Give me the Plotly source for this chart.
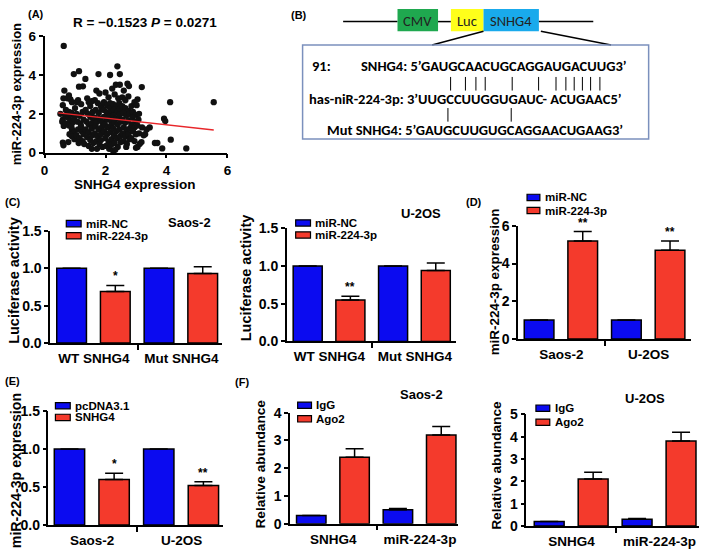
import plotly.graph_objects as go

W, H = 709, 557
FONT = "Liberation Sans, Arial"
BLUE = "#0b0bf0"
RED = "#f43a2c"

# ---------------- Panel A data (scatter) ----------------
snhg4_expr = [
    0.52, 0.6, 0.62, 0.65, 0.6, 0.58, 0.63, 0.6, 0.62, 0.78, 0.63, 0.7, 0.68, 0.7,
    0.75, 0.8, 0.85, 0.9, 0.8, 0.88, 0.95, 0.78, 0.85, 0.92, 0.8, 0.9, 0.95, 0.82, 0.9, 0.98, 0.96, 1.0, 0.97, 0.88,
    1.13, 1.13, 1.26, 1.05, 1.1, 1.2, 1.05, 1.15, 1.25, 1.08, 1.18, 1.28, 1.1, 1.22, 1.05, 1.15, 1.25, 1.12, 1.3, 1.2, 1.28,
    1.34, 1.4, 1.45, 1.5, 1.55, 1.35, 1.42, 1.5, 1.58, 1.38, 1.45, 1.55, 1.35, 1.45, 1.55, 1.4, 1.5, 1.58, 1.45, 1.55, 1.6, 1.6,
    1.77, 1.7, 1.8, 1.65, 1.75, 1.85, 1.68, 1.78, 1.88, 1.65, 1.72, 1.82, 1.9, 1.68, 1.78, 1.88, 1.65, 1.75, 1.85, 1.7, 1.8, 1.9, 1.72, 1.85,
    2.15, 2.0, 2.1, 1.95, 2.05, 2.15, 1.95, 2.05, 2.15, 2.2, 1.95, 2.05, 2.12, 2.2, 1.98, 2.08, 2.18, 1.95, 2.05, 2.15, 2.0, 2.1, 2.2, 2.02, 2.12, 2.18, 2.22,
    2.39, 2.47, 2.34, 2.47, 2.3, 2.42, 2.25, 2.35, 2.45, 2.28, 2.38, 2.48, 2.25, 2.35, 2.45, 2.3, 2.4, 2.5, 2.25, 2.35, 2.45, 2.28, 2.38, 2.48, 2.3, 2.4, 2.25, 2.32, 2.5, 2.45,
    2.72, 2.77, 2.6, 2.55, 2.65, 2.75, 2.55, 2.65, 2.75, 2.58, 2.68, 2.78, 2.55, 2.65, 2.75, 2.6, 2.7, 2.8, 2.55, 2.65, 2.75, 2.6, 2.7, 2.8, 2.68,
    2.85, 2.95, 3.05, 3.02, 2.9, 3.0, 3.1, 2.88, 2.98, 3.08, 2.85, 2.95, 3.05, 2.9, 3.0, 3.1, 2.85, 2.95, 3.05, 3.12, 3.19, 3.2, 3.25, 3.18, 3.0,
    3.35, 3.45, 3.3, 3.62, 3.7, 3.86, 3.92, 3.96, 4.12, 4.14, 4.65, 5.55,
]
mir224_expr = [
    2.0, 2.45, 2.8, 3.2, 1.7, 1.6, 1.38, 0.52, 0.38, 0.55, 5.5, 2.2, 1.9, 1.5,
    2.8, 2.95, 2.75, 2.6, 2.1, 2.05, 1.95, 1.8, 1.65, 1.55, 1.4, 1.2, 1.05, 0.95, 0.85, 0.7, 4.05, 2.3, 1.75, 1.35,
    4.2, 3.4, 3.42, 2.6, 2.7, 2.5, 2.0, 1.9, 2.1, 1.6, 1.5, 1.7, 1.2, 1.1, 0.9, 0.75, 0.6, 0.5, 0.45, 1.35, 0.95,
    3.8, 2.8, 2.6, 2.4, 2.65, 2.2, 2.0, 1.85, 2.1, 1.6, 1.45, 1.5, 1.2, 1.05, 1.25, 0.8, 0.65, 0.9, 0.35, 0.2, 0.5, 1.7,
    4.05, 3.2, 3.05, 2.7, 2.55, 2.4, 2.2, 2.05, 2.25, 1.8, 1.6, 1.75, 1.55, 1.35, 1.2, 1.3, 1.0, 0.85, 0.95, 0.6, 0.45, 0.3, 0.2, 0.65,
    4.0, 3.1, 2.85, 2.6, 2.45, 2.55, 2.2, 2.05, 2.3, 2.1, 1.85, 1.7, 1.85, 1.6, 1.45, 1.3, 1.4, 1.1, 0.95, 1.05, 0.75, 0.55, 0.7, 0.35, 0.2, 0.4, 3.3,
    4.45, 4.05, 3.5, 3.5, 3.0, 2.8, 2.5, 2.4, 2.55, 2.2, 2.1, 2.25, 1.9, 1.75, 1.85, 1.55, 1.45, 1.6, 1.25, 1.1, 1.2, 0.9, 0.75, 0.85, 0.5, 0.3, 0.1, 0.15, 0.55, 1.95,
    3.55, 3.43, 3.2, 2.85, 2.7, 2.9, 2.4, 2.3, 2.15, 2.05, 1.9, 2.0, 1.7, 1.55, 1.65, 1.3, 1.15, 1.25, 1.0, 0.85, 0.95, 0.6, 0.45, 0.7, 0.3,
    2.4, 2.6, 2.75, 2.45, 2.1, 1.95, 2.0, 1.8, 1.6, 1.7, 1.45, 1.3, 1.4, 1.1, 0.95, 1.0, 0.75, 0.6, 0.3, 0.45, 3.38, 1.3, 0.9, 0.55, 0.25,
    1.2, 1.3, 0.95, 0.5, 0.5, 0.22, 1.75, 1.63, 2.6, 0.67, 0.22, 2.6,
]
fit_x = [0.45, 5.55]
fit_y = [2.05, 1.17]
corr_text = "R = \u22120.1523 <i>P</i> = 0.0271"

# ---------------- Panel C data (luciferase) ----------------
luc_groups = ["WT SNHG4", "Mut SNHG4"]
saos_nc = [1.0, 1.0]
saos_nc_err = [0.0, 0.0]
saos_mir = [0.69, 0.93]
saos_mir_err = [0.08, 0.09]
saos_sig = ["*", ""]
u2os_nc = [1.0, 1.0]
u2os_nc_err = [0.0, 0.0]
u2os_mir = [0.55, 0.94]
u2os_mir_err = [0.05, 0.10]
u2os_sig = ["**", ""]

# ---------------- Panel D data ----------------
cell_lines = ["Saos-2", "U-2OS"]
d_nc = [1.0, 1.0]
d_nc_err = [0.0, 0.0]
d_mir = [5.2, 4.7]
d_mir_err = [0.5, 0.5]
d_sig = ["**", "**"]

# ---------------- Panel E data ----------------
e_pcdna = [1.0, 1.0]
e_pcdna_err = [0.0, 0.0]
e_snhg4 = [0.6, 0.52]
e_snhg4_err = [0.08, 0.05]
e_sig = ["*", "**"]

# ---------------- Panel F data (RIP) ----------------
rip_targets = ["SNHG4", "miR-224-3p"]
f_saos_igg = [0.3, 0.5]
f_saos_igg_err = [0.0, 0.05]
f_saos_ago2 = [2.4, 3.2]
f_saos_ago2_err = [0.3, 0.3]
f_u2os_igg = [0.2, 0.3]
f_u2os_igg_err = [0.0, 0.03]
f_u2os_ago2 = [2.1, 3.8]
f_u2os_ago2_err = [0.3, 0.4]


def px(x):
    return x / W


def py(y):
    return 1 - y / H


fig = go.Figure()
annotations = []
shapes = []


def font(size, color="black", bold=True, family=FONT):
    d = dict(family=family, size=size, color=color)
    if bold:
        d["weight"] = "bold"
    return d


def text(x, y, t, size=12, xanchor="center", yanchor="middle", angle=0, bold=True, family=FONT, color="black"):
    annotations.append(dict(x=px(x), y=py(y), xref="paper", yref="paper", text=t, showarrow=False,
                            xanchor=xanchor, yanchor=yanchor, textangle=angle, borderpad=0,
                            font=font(size, color, bold, family)))


AX = dict(showline=True, linecolor="black", linewidth=1.5, ticks="outside", ticklen=4, tickwidth=1.5,
          tickcolor="black", showgrid=False, zeroline=False, mirror=False, fixedrange=True)

layout_axes = {}


def set_axes(idx, xdom, ydom, xrange, yrange, xkw=None, ykw=None):
    xname = "xaxis" if idx == 1 else f"xaxis{idx}"
    yname = "yaxis" if idx == 1 else f"yaxis{idx}"
    xa = dict(AX, domain=[px(xdom[0]), px(xdom[1])], range=xrange, anchor=f"y{'' if idx == 1 else idx}")
    ya = dict(AX, domain=[py(ydom[1]), py(ydom[0])], range=yrange, anchor=f"x{'' if idx == 1 else idx}")
    if xkw:
        xa.update(xkw)
    if ykw:
        ya.update(ykw)
    layout_axes[xname] = xa
    layout_axes[yname] = ya


def ref(idx):
    return ("x", "y") if idx == 1 else (f"x{idx}", f"y{idx}")


# ---------------- Panel A ----------------
fig.add_trace(go.Scatter(x=snhg4_expr, y=mir224_expr, mode="markers", xaxis="x", yaxis="y",
                         marker=dict(color="#111111", size=6.3), showlegend=False, cliponaxis=False))
fig.add_trace(go.Scatter(x=fit_x, y=fit_y, mode="lines", xaxis="x", yaxis="y",
                         line=dict(color="#e8262a", width=1.3), showlegend=False))
set_axes(1, (41, 226), (29, 149), [0, 6], [0, 6],
         xkw=dict(tickvals=[0, 2, 4, 6], tickfont=font(13.5)),
         ykw=dict(tickvals=[0, 2, 4, 6], tickfont=font(13.5)))
text(32, 6, "(A)", 11)
text(143, 15, corr_text, 13.5)
text(13, 89, "miR-224-3p expression", 13, angle=-90)
text(133, 182, "SNHG4 expression", 13.5)

# ---------------- bar helper ----------------
OFF_A, OFF_B, BW = -0.425, 0.075, 0.34


def bar_panel(idx, groups, v1, e1, v2, e2, c1name, c2name, sig, sig_size=12):
    xr, yr = ref(idx)
    pos = list(range(len(groups)))
    for vals, errs, color, off, name in ((v1, e1, BLUE, OFF_A, c1name), (v2, e2, RED, OFF_B, c2name)):
        fig.add_trace(go.Bar(x=pos, y=vals, width=BW, offset=off, name=name, xaxis=xr, yaxis=yr,
                             marker=dict(color=color, line=dict(color="black", width=1.5)),
                             error_y=dict(type="data", symmetric=False, array=errs, arrayminus=[0] * len(errs),
                                          color="black", thickness=1.5, width=9),
                             showlegend=False))
    for i, s in enumerate(sig):
        if s:
            annotations.append(dict(x=i + OFF_B + BW / 2, y=v2[i] + e2[i], xref=xr, yref=yr, text=s,
                                    showarrow=False, yanchor="bottom", yshift=0, font=font(sig_size)))


def bar_axes(idx, xdom, ydom, xrange, yrange, groups, ytickvals, ytickfmt, standoff=2):
    set_axes(idx, xdom, ydom, xrange, yrange,
             xkw=dict(tickvals=list(range(len(groups))), ticktext=groups, ticks="",
                      tickfont=font(13.5), ticklabelstandoff=standoff,
                      minor=dict(tickmode="array", tickvals=[0.5], ticks="outside", ticklen=5,
                                 tickwidth=1.5, tickcolor="black")),
             ykw=dict(tickvals=ytickvals, ticktext=[ytickfmt.format(v) for v in ytickvals], tickfont=font(14)))


def legend(x, ys, colors, labels, size=11.5, bw=15, bh=6.5):
    for yy, c, lab in zip(ys, colors, labels):
        shapes.append(dict(type="rect", xref="paper", yref="paper", x0=px(x), x1=px(x + bw),
                           y0=py(yy + bh / 2), y1=py(yy - bh / 2), fillcolor=c,
                           line=dict(color="black", width=1.2)))
        text(x + bw + 4, yy, lab, size, xanchor="left")


# ---------------- Panel C (left, Saos-2) ----------------
bar_panel(2, luc_groups, saos_nc, saos_nc_err, saos_mir, saos_mir_err, "miR-NC", "miR-224-3p", saos_sig)
bar_axes(2, (46.7, 220), (229.3, 345), [-0.5, 1.46], [0, 1.5], luc_groups, [0, 0.5, 1.0, 1.5], "{:.1f}")
text(9, 200, "(C)", 11)
text(10, 280, "Luciferase activity", 14.5, angle=-90)
legend(63, [222, 234.5], [BLUE, RED], ["miR-NC", "miR-224-3p"])
text(188, 221, "Saos-2", 13)

# ---------------- Panel C (right, U-2OS) ----------------
bar_panel(3, luc_groups, u2os_nc, u2os_nc_err, u2os_mir, u2os_mir_err, "miR-NC", "miR-224-3p", u2os_sig)
bar_axes(3, (286, 457), (226.7, 343.3), [-0.5, 1.48], [0, 1.5], luc_groups, [0, 0.5, 1.0, 1.5], "{:.1f}")
text(245, 278, "Luciferase activity", 14.5, angle=-90)
legend(295, [221.3, 233.7], [BLUE, RED], ["miR-NC", "miR-224-3p"])
text(422, 212, "U-2OS", 13)

# ---------------- Panel D ----------------
bar_panel(4, cell_lines, d_nc, d_nc_err, d_mir, d_mir_err, "miR-NC", "miR-224-3p", d_sig)
bar_axes(4, (520, 695), (224.3, 340.7), [-0.495, 1.487], [0, 6], cell_lines, [0, 2, 4, 6], "{:d}")
text(475, 200, "(D)", 11)
text(497, 282, "miR-224-3p expression", 13.4, angle=-90)
legend(529, [195, 208.5], [BLUE, RED], ["miR-NC", "miR-224-3p"], bw=13)

# ---------------- Panel E ----------------
bar_panel(5, cell_lines, e_pcdna, e_pcdna_err, e_snhg4, e_snhg4_err, "pcDNA3.1", "SNHG4", e_sig)
bar_axes(5, (45, 222), (415, 532.3), [-0.49, 1.47], [0, 1.5], cell_lines, [0, 0.5, 1.0, 1.5], "{:.1f}")
text(9, 384, "(E)", 11)
text(12, 476, "miR-224-3p expression", 14.2, angle=-90)
legend(52, [409.5, 421.5], [BLUE, RED], ["pcDNA3.1", "SNHG4"])

# ---------------- Panel F (left, Saos-2) ----------------
bar_panel(6, rip_targets, f_saos_igg, f_saos_igg_err, f_saos_ago2, f_saos_ago2_err, "IgG", "Ago2", ["", ""])
bar_axes(6, (289.3, 459.3), (416.7, 531), [-0.5, 1.44], [0, 4], rip_targets, [0, 1, 2, 3, 4], "{:d}")
text(241, 385, "(F)", 11)
text(259, 470, "Relative abundance", 13.7, angle=-90)
legend(297, [409, 423], [BLUE, RED], ["IgG", "Ago2"], bw=14)
text(422, 398, "Saos-2", 13)

# ---------------- Panel F (right, U-2OS) ----------------
bar_panel(7, rip_targets, f_u2os_igg, f_u2os_igg_err, f_u2os_ago2, f_u2os_ago2_err, "IgG", "Ago2", ["", ""])
bar_axes(7, (528.3, 703), (418.3, 533.3), [-0.515, 1.45], [0, 5], rip_targets, [0, 1, 2, 3, 4, 5], "{:d}")
text(498, 471, "Relative abundance", 13.7, angle=-90)
legend(538, [412, 426.5], [BLUE, RED], ["IgG", "Ago2"], bw=14)
text(648, 402, "U-2OS", 13)

# ---------------- Panel B (construct diagram) ----------------
def line(x0, y0, x1, y1, color="black", width=1.5):
    shapes.append(dict(type="line", xref="paper", yref="paper", x0=px(x0), y0=py(y0), x1=px(x1), y1=py(y1),
                       line=dict(color=color, width=width)))


def box(x0, y0, x1, y1, fill, lc=None, lw=0):
    shapes.append(dict(type="rect", xref="paper", yref="paper", x0=px(x0), y0=py(y1), x1=px(x1), y1=py(y0),
                       fillcolor=fill, line=dict(color=lc or fill, width=lw)))


line(343, 14, 398, 14)
box(398, 1, 439, 24, "#1fa84f")
line(439, 14, 452, 14)
box(452, 1, 485, 24, "#ffff1a")
box(485, 1, 541, 24, "#19aaec")
line(541, 14, 596, 14)
line(485, 24, 433, 38)
line(543, 24, 614, 38)
box(302, 38, 652, 135, "rgba(0,0,0,0)", "#7b90bd", 1.5)
SEQF = "Carlito, Liberation Sans"
text(298, 7, "(B)", 11)
text(418, 13, "CMV", 14.5, bold=False, family=SEQF, color="#222")
text(468, 13, "Luc", 14.5, bold=False, family=SEQF, color="#222")
text(513, 13, "SNHG4", 14.5, bold=False, family=SEQF, color="#222")
text(310, 60, "91:", 14.5, xanchor="left", family=SEQF)
text(360, 60, "SNHG4: 5\u2019GAUGCAACUGCAGGAUGACUUG3\u2019", 14.5, xanchor="left", family=SEQF)
text(307, 94, "has-niR-224-3p: 3\u2019UUGCCUUGGUGAUC- ACUGAAC5\u2019", 14.5, xanchor="left", family=SEQF)
text(326, 126, "Mut SNHG4: 5\u2019GAUGCUUGUGCAGGAACUGAAG3\u2019", 14.5, xanchor="left", family=SEQF)
for bx in [451.7, 466.7, 477.3, 486.7, 514, 540.7, 558.3, 568.3, 576.7, 585, 593.3, 602.7]:
    line(bx, 71, bx, 85, width=1)
for bx in [449, 513]:
    line(bx, 103, bx, 117, width=1)

fig.update_layout(width=W, height=H, margin=dict(l=0, r=0, t=0, b=0), paper_bgcolor="white",
                  plot_bgcolor="rgba(0,0,0,0)", barmode="overlay", showlegend=False,
                  annotations=annotations, shapes=shapes, **layout_axes)
fig.write_html("out.html", config={"displayModeBar": False},
               post_script="document.documentElement.style.margin='0';document.body.style.margin='0';"
                           "document.body.style.padding='0';document.body.style.overflow='hidden';")
